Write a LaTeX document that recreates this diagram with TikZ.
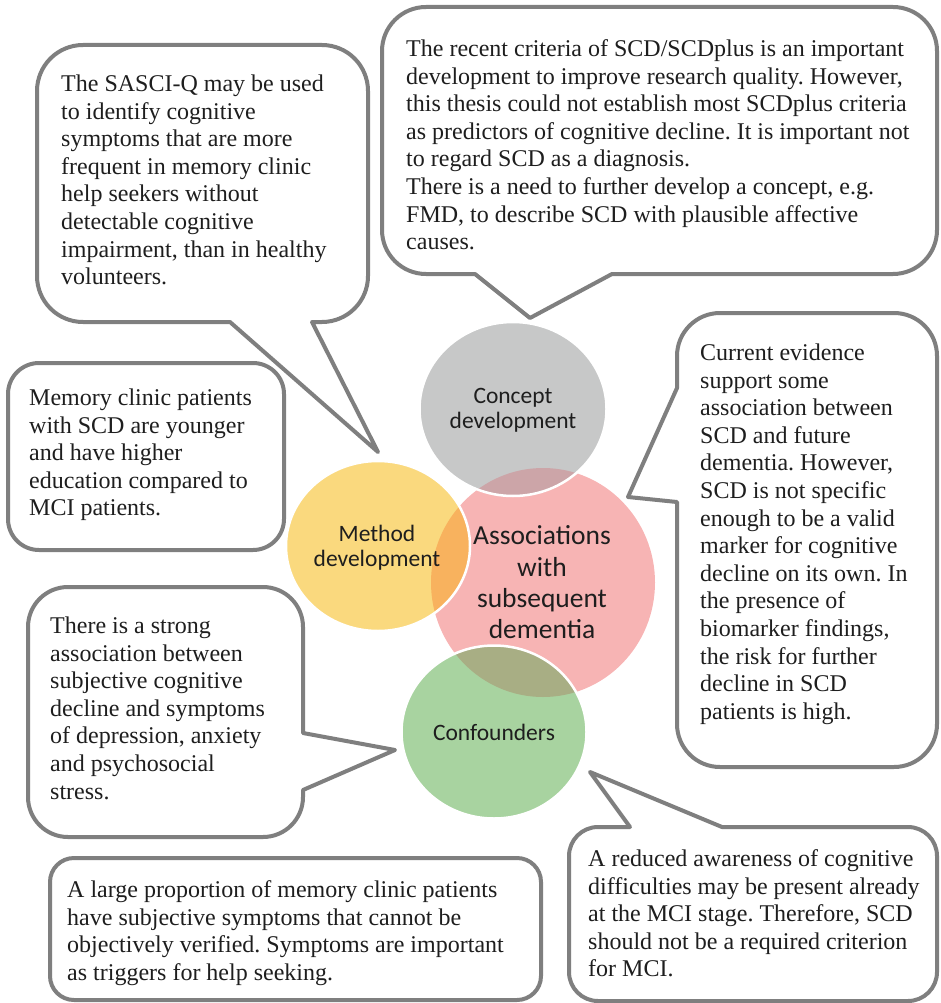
\documentclass[tikz,border=0pt]{standalone}
\usepackage{fontspec}
\setmainfont{Liberation Serif}
\newfontfamily\calibri{Carlito}
\definecolor{rimgray}{HTML}{7F7F7F}
\definecolor{inkcol}{HTML}{1E1E1E}
\definecolor{assoccol}{HTML}{F7B4B4}
\definecolor{conceptcol}{HTML}{C7C8C8}
\definecolor{methodcol}{HTML}{FAD97E}
\definecolor{confoundcol}{HTML}{A8D3A0}
\definecolor{conceptassoc}{HTML}{CCA5A8}
\definecolor{methodassoc}{HTML}{F8B25E}
\definecolor{confoundassoc}{HTML}{A8AE84}
\tikzset{
  callout/.style={draw=rimgray, line width=4pt, fill=white, line join=round},
  note/.style={anchor=north west, inner sep=0pt, align=left, text=inkcol,
    font=\fontsize{24}{27.6}\selectfont\frenchspacing},
  topic/.style={inner sep=0pt, align=center, text=inkcol,
    font=\calibri\fontsize{23.5}{25}\selectfont},
  rim/.style={draw=white, line width=2.5pt}
}
\begin{document}
\begin{tikzpicture}[x=1pt, y=-1pt, line join=round, line cap=round]
\useasboundingbox (0,0) rectangle (940,1003);
% pointer tips
\coordinate (tipsasci) at (378,452);
\coordinate (tipscd) at (530,318);
\coordinate (tipcurrent) at (628,497);
\coordinate (tipstrong) at (395,750);
\coordinate (tipaware) at (590,772);
% callouts
\draw[callout, rounded corners=31pt] (8,363) rectangle (284,550);
\draw[callout] (83,45) -- (322,45) arc[start angle=270, end angle=360, radius=46]
  -- (368,276) arc[start angle=0, end angle=90, radius=46]
  -- (312,322) -- (tipsasci) -- (230,322)
  -- (83,322) arc[start angle=90, end angle=180, radius=46]
  -- (37,91) arc[start angle=180, end angle=270, radius=46] -- cycle;
\draw[callout] (426,7) -- (893,7) arc[start angle=270, end angle=360, radius=44]
  -- (937,230) arc[start angle=0, end angle=90, radius=44]
  -- (612,274) -- (tipscd) -- (475,274)
  -- (426,274) arc[start angle=90, end angle=180, radius=44]
  -- (382,51) arc[start angle=180, end angle=270, radius=44] -- cycle;
\draw[callout] (720,313) -- (894,313) arc[start angle=270, end angle=360, radius=43]
  -- (937,724) arc[start angle=0, end angle=90, radius=43]
  -- (720,767) arc[start angle=90, end angle=180, radius=43]
  -- (677,502) -- (tipcurrent) -- (677,388)
  -- (677,356) arc[start angle=180, end angle=270, radius=43] -- cycle;
\draw[callout] (68,587) -- (263,587) arc[start angle=270, end angle=360, radius=40]
  -- (303,733) -- (tipstrong) -- (303,790)
  -- (303,797) arc[start angle=0, end angle=90, radius=40]
  -- (68,837) arc[start angle=90, end angle=180, radius=40]
  -- (28,627) arc[start angle=180, end angle=270, radius=40] -- cycle;
\draw[callout, rounded corners=24pt] (50,858) rectangle (541,1000);
\draw[callout] (598,827) -- (630,827) -- (tipaware) -- (722,827)
  -- (908,827) arc[start angle=270, end angle=360, radius=29]
  -- (937,972) arc[start angle=0, end angle=90, radius=29]
  -- (598,1001) arc[start angle=90, end angle=180, radius=29]
  -- (569,856) arc[start angle=180, end angle=270, radius=29] -- cycle;
% callout texts
\node[note] (sasci) at (61,72) {\strut The SASCI-Q may be used\\to identify cognitive\\symptoms that are more\\frequent in memory clinic\\help seekers without\\detectable cognitive\\impairment, than in healthy\\volunteers.};
\node[note] (scdplus) at (406,37) {\strut The recent criteria of SCD/SCDplus is an important\\development to improve research quality. However,\\this thesis could not establish most SCDplus criteria\\as predictors of cognitive decline. It is important not\\to regard SCD as a diagnosis.\\There is a need to further develop a concept, e.g.\\FMD, to describe SCD with plausible affective\\causes.};
\node[note] (younger) at (29,386) {\strut Memory clinic patients\\with SCD are younger\\and have higher\\education compared to\\MCI patients.};
\node[note] (current) at (700,341) {\strut Current evidence\\support some\\association between\\SCD and future\\dementia. However,\\SCD is not specific\\enough to be a valid\\marker for cognitive\\decline on its own. In\\the presence of\\biomarker findings,\\the risk for further\\decline in SCD\\patients is high.};
\node[note] (strong) at (50,614) {\strut There is a strong\\association between\\subjective cognitive\\decline and symptoms\\of depression, anxiety\\and psychosocial\\stress.};
\node[note] (proportion) at (67,878) {\strut A large proportion of memory clinic patients\\have subjective symptoms that cannot be\\objectively verified. Symptoms are important\\as triggers for help seeking.};
\node[note] (aware) at (588,847) {\strut A reduced awareness of cognitive\\difficulties may be present already\\at the MCI stage. Therefore, SCD\\should not be a required criterion\\for MCI.};
% circles
\coordinate (c-assoc) at (543,582.5);
\coordinate (c-concept) at (513,409);
\coordinate (c-method) at (378,546);
\coordinate (c-confound) at (494,732);
\fill[assoccol] (c-assoc) ellipse [x radius=112, y radius=114.5];
\fill[conceptcol] (c-concept) ellipse [x radius=93.5, y radius=87];
\fill[methodcol] (c-method) ellipse [x radius=92, y radius=85];
\fill[confoundcol] (c-confound) ellipse [x radius=92.5, y radius=86.5];
\begin{scope}
  \clip (c-assoc) ellipse [x radius=112, y radius=114.5];
  \fill[conceptassoc] (c-concept) ellipse [x radius=93.5, y radius=87];
  \fill[methodassoc] (c-method) ellipse [x radius=92, y radius=85];
  \fill[confoundassoc] (c-confound) ellipse [x radius=92.5, y radius=86.5];
\end{scope}
\draw[rim] (c-concept) ellipse [x radius=93.5, y radius=87];
\draw[rim] (c-method) ellipse [x radius=92, y radius=85];
\draw[rim] (c-confound) ellipse [x radius=92.5, y radius=86.5];
% circle labels
\node[topic] (concept) at (513,410) {Concept\\development};
\node[topic] (method) at (377,547.5) {Method\\development};
\node[topic, font=\calibri\fontsize{27.5}{31.3}\selectfont] (assoc) at (542,582.5) {Associations\\with\\subsequent\\dementia};
\node[topic] (confound) at (494,732) {Confounders};
\end{tikzpicture}
\end{document}
